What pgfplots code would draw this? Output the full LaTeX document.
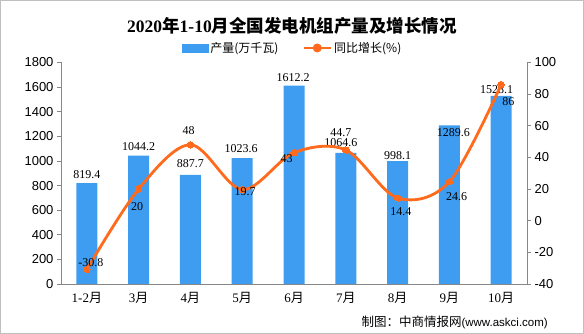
\documentclass[border=0pt]{standalone}
\usepackage{pgfplots}
\pgfplotsset{compat=1.18}
\usepackage{pgfplotstable}
\usepackage{fontspec}
\setmainfont{Liberation Serif}
\newfontfamily\cjk{Noto Sans CJK SC}
\newfontfamily\arial{Liberation Sans}
\definecolor{barblue}{HTML}{3E9DF0}
\definecolor{lineor}{HTML}{FF6A1C}
\definecolor{axgray}{HTML}{878787}
\pgfplotstableread{
x prod pdx pdy growth gdx gdy
0 819.4 0 8.4 -30.8 4 6.7
1 1044.2 0 9 20 -1.6 -17.7
2 887.7 0 10.7 48 -1.7 14
3 1023.6 -1 9.4 19.7 3 -2.2
4 1612.2 -1 7.7 43 -7.3 -5.6
5 1064.6 -5 10.3 44.7 -5 17.6
6 998.1 0 5.3 14.4 3.3 -13.7
7 1289.6 4 -7.7 24.6 7.4 -15
8 1528.1 -4.6 6.7 86 7.2 -16.7
}\datatable
\begin{document}
\begin{tikzpicture}
\useasboundingbox (0pt,0pt) rectangle (584pt,334pt);
\draw[gray!50, line width=0.8pt] (0.4pt,0.4pt) rectangle (583.6pt,333.6pt);
\node at (292pt,308pt) {\fontsize{17.5}{17.5}\selectfont\bfseries 2020{\cjk 年}1-10{\cjk 月全国发电机组产量及增长情况}};
\node[anchor=east, inner sep=0pt] at (548pt,12pt) {{\cjk\fontsize{12.5}{12.5}\selectfont 制图：中商情报网}{\arial\fontsize{11.5}{11.5}\selectfont (www.askci.com)}};
\begin{axis}[
  at={(61pt,50pt)}, anchor=south west,
  scale only axis, width=466pt, height=221.5pt,
  xmin=-0.5, xmax=8.5, ymin=0, ymax=1800,
  ytick={0,200,...,1800},
  axis y line*=left, axis x line*=bottom,
  axis line style={axgray, line width=0.8pt},
  every tick/.style={axgray, line width=0.8pt},
  tick align=outside,
  major tick length=4pt,
  xtick={0,...,8},
  xticklabels={{1-2{\cjk 月}},{3{\cjk 月}},{4{\cjk 月}},{5{\cjk 月}},{6{\cjk 月}},{7{\cjk 月}},{8{\cjk 月}},{9{\cjk 月}},{10{\cjk 月}}},
  x tick style={draw=none},
  minor xtick={-0.5,0.5,...,8.5},
  minor tick length=5pt,
  minor x tick style={axgray, line width=0.8pt},
  xticklabel style={font=\fontsize{13}{13}\selectfont, yshift=-1pt},
  yticklabel style={font=\arial\fontsize{13}{13}\selectfont},
  /pgf/number format/assume math mode=true,
  /pgf/number format/1000 sep={},
  clip=false,
]
\addplot[ybar, bar width=21pt, fill=barblue, draw=none,
  point meta=explicit symbolic,
  nodes near coords,
  visualization depends on={\thisrow{pdx} \as \pdx},
  visualization depends on={\thisrow{pdy} \as \pdy},
  every node near coord/.append style={anchor=center, xshift=\pdx pt, yshift=\pdy pt, font=\fontsize{12}{12}\selectfont, text=black, inner sep=0pt},
] table[x=x, y=prod, meta=prod] {\datatable};
\end{axis}
\begin{axis}[
  at={(61pt,50pt)}, anchor=south west,
  scale only axis, width=466pt, height=221.5pt,
  xmin=-0.5, xmax=8.5, ymin=-40, ymax=100,
  ytick={-40,-20,...,100},
  axis y line*=right, axis x line=none,
  axis line style={axgray, line width=0.8pt},
  every tick/.style={axgray, line width=0.8pt},
  tick align=outside,
  major tick length=4pt,
  yticklabel style={font=\arial\fontsize{13}{13}\selectfont},
  /pgf/number format/assume math mode=true,
  clip=false,
  legend columns=2,
  legend style={at={(0.497,1.0655)}, anchor=center, draw=none, fill=none,
    font=\cjk\fontsize{12}{12}\selectfont, inner sep=0pt,
    /tikz/every even column/.append style={column sep=22pt}},
  legend cell align=left,
]
\addlegendimage{legend image code/.code={\fill[barblue] (0pt,-4pt) rectangle (26pt,4pt);}}
\addlegendentry{产量(万千瓦)}
\addplot[smooth, tension=0.55, color=lineor, line width=2.8pt,
  mark=*, mark size=3.3pt, mark options={fill=lineor, draw=lineor, line width=0pt},
  legend image code/.code={\draw[lineor, line width=2.8pt] (0pt,0pt) -- (27pt,0pt); \fill[lineor] (13.5pt,0pt) circle (3pt);},
  point meta=explicit symbolic,
  nodes near coords,
  visualization depends on={\thisrow{gdx} \as \gdx},
  visualization depends on={\thisrow{gdy} \as \gdy},
  every node near coord/.append style={anchor=center, xshift=\gdx pt, yshift=\gdy pt, font=\fontsize{12}{12}\selectfont, text=black, inner sep=0pt},
] table[x=x, y=growth, meta=growth] {\datatable};
\addlegendentry{同比增长(\%)}
\end{axis}
\end{tikzpicture}
\end{document}
